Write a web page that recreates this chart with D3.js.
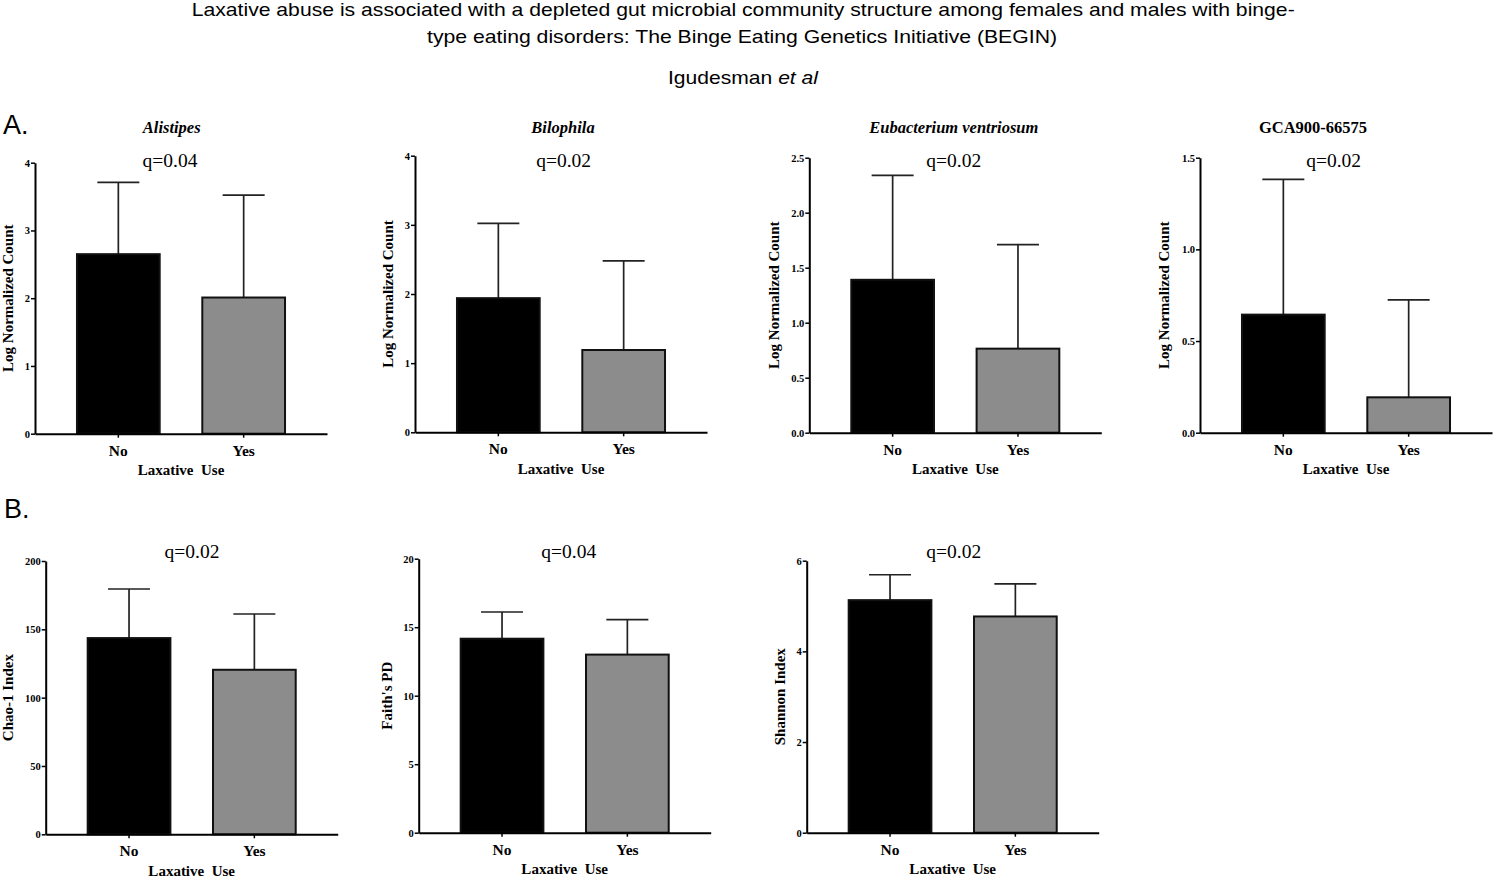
<!DOCTYPE html>
<html>
<head>
<meta charset="utf-8">
<script src="https://cdn.jsdelivr.net/npm/d3@7"></script>
<style>
  body { margin: 0; background: #fff; }
  svg { display: block; }
  .serif { font-family: "Liberation Serif", "Times New Roman", serif; }
  .sans { font-family: "Liberation Sans", Arial, sans-serif; }
</style>
</head>
<body>
<div id="chart"></div>
<script>
// chart values
var panel_names = ["Alistipes", "Bilophila", "Eubacterium ventriosum", "GCA900-66575", "", "", ""];
var panel_italic = [true, true, true, false, false, false, false];
var y_labels = ["Log Normalized Count", "Log Normalized Count", "Log Normalized Count", "Log Normalized Count",
                "Chao-1 Index", "Faith's PD", "Shannon Index"];
var q_labels = ["q=0.04", "q=0.02", "q=0.02", "q=0.02", "q=0.02", "q=0.04", "q=0.02"];
var groups = ["No", "Yes"];
var mean_no = [2.65, 1.94, 1.39, 0.644, 143.6, 14.16, 5.13];
var mean_yes = [2.01, 1.19, 0.764, 0.193, 120.4, 13.0, 4.77];
var upper_no = [3.71, 3.02, 2.34, 1.382, 179.5, 16.11, 5.69];
var upper_yes = [3.52, 2.48, 1.71, 0.724, 161.2, 15.55, 5.49];
var y_max = [4, 4, 2.5, 1.5, 200, 20, 6];
var y_step = [1, 1, 0.5, 0.5, 50, 5, 2];
var y_fmt = ["d", "d", ".1f", ".1f", "d", "d", "d"];
var x_title = "Laxative  Use";

// layout of the seven small plots
var panel_x = [35, 415, 809.3, 1200, 45.7, 418.7, 806.7];
var panel_top = [162.7, 155.7, 157.7, 157.7, 561, 558.7, 560.7];
var panel_bottom = [433.7, 432.3, 432.7, 432.7, 834.3, 832.7, 832.7];
var ylab_dx = [-26.7, -26.7, -35.3, -36, -37.4, -32, -26.7];
var q_dx = [135, 148.7, 144.4, 133.7, 146.3, 150, 147];
var title_dx = [136.7, 148, 144.5, 113, 0, 0, 0];
var plot_w = 292;

var svg = d3.select("#chart").append("svg").attr("width", 1500).attr("height", 881);

// header
var head = svg.append("g").attr("class", "sans").attr("fill", "#000").attr("text-anchor", "start");
head.append("text").attr("x", 191.7).attr("y", 15.7).attr("font-size", 19)
    .attr("textLength", 1103).attr("lengthAdjust", "spacingAndGlyphs")
    .text("Laxative abuse is associated with a depleted gut microbial community structure among females and males with binge-");
head.append("text").attr("x", 427).attr("y", 42.7).attr("font-size", 19)
    .attr("textLength", 630).attr("lengthAdjust", "spacingAndGlyphs")
    .text("type eating disorders: The Binge Eating Genetics Initiative (BEGIN)");
var auth = head.append("text").attr("x", 668).attr("y", 83.5).attr("font-size", 19)
    .attr("textLength", 150).attr("lengthAdjust", "spacingAndGlyphs");
auth.append("tspan").text("Igudesman ");
auth.append("tspan").attr("font-style", "italic").text("et al");

head.append("text").attr("x", 3).attr("y", 134).attr("font-size", 27).text("A.");
head.append("text").attr("x", 4).attr("y", 518.3).attr("font-size", 27).text("B.");

function draw_panel(i) {
    var top = panel_top[i], bottom = panel_bottom[i];
    var g = svg.append("g").attr("class", "serif").attr("transform", "translate(" + panel_x[i] + ",0)");

    var x = d3.scaleBand().domain(groups).range([0, plot_w]).paddingInner(0.34).paddingOuter(0.335);
    var y = d3.scaleLinear().domain([0, y_max[i]]).range([bottom, top]);

    var rows = [
        {key: "No", mean: mean_no[i], upper: upper_no[i], fill: "#000"},
        {key: "Yes", mean: mean_yes[i], upper: upper_yes[i], fill: "#8c8c8c"}
    ];

    // error bars (upper only) drawn behind the bars
    g.selectAll(".err").data(rows).enter().append("line").attr("class", "err")
        .attr("x1", function (d) { return x(d.key) + x.bandwidth() / 2; })
        .attr("x2", function (d) { return x(d.key) + x.bandwidth() / 2; })
        .attr("y1", function (d) { return y(d.mean); })
        .attr("y2", function (d) { return y(d.upper); })
        .attr("stroke", "#222").attr("stroke-width", 1.7);
    g.selectAll(".cap").data(rows).enter().append("line").attr("class", "cap")
        .attr("x1", function (d) { return x(d.key) + x.bandwidth() / 2 - 21; })
        .attr("x2", function (d) { return x(d.key) + x.bandwidth() / 2 + 21; })
        .attr("y1", function (d) { return y(d.upper); })
        .attr("y2", function (d) { return y(d.upper); })
        .attr("stroke", "#222").attr("stroke-width", 1.7);

    g.selectAll(".bar").data(rows).enter().append("rect").attr("class", "bar")
        .attr("x", function (d) { return x(d.key); })
        .attr("width", x.bandwidth())
        .attr("y", function (d) { return y(d.mean); })
        .attr("height", function (d) { return bottom - y(d.mean); })
        .attr("fill", function (d) { return d.fill; })
        .attr("stroke", "#111").attr("stroke-width", 2);

    // y axis
    var ticks = d3.range(0, y_max[i] + y_step[i] / 2, y_step[i]);
    var ya = g.append("g").call(d3.axisLeft(y).tickValues(ticks).tickFormat(d3.format(y_fmt[i]))
                .tickSize(4).tickSizeOuter(0).tickPadding(1));
    ya.select(".domain").attr("stroke", "#000").attr("stroke-width", 2);
    ya.selectAll(".tick line").attr("stroke", "#000").attr("stroke-width", 1.5);
    ya.selectAll(".tick text").attr("class", "serif").attr("font-size", 10.5).attr("font-weight", "bold").attr("fill", "#000");

    // x axis
    var xa = g.append("g").attr("transform", "translate(0," + bottom + ")")
        .call(d3.axisBottom(x).tickSize(4).tickSizeOuter(0).tickPadding(7));
    xa.select(".domain").attr("stroke", "#000").attr("stroke-width", 2);
    xa.selectAll(".tick line").attr("stroke", "#000").attr("stroke-width", 1.5);
    xa.selectAll(".tick text").attr("class", "serif").attr("font-size", 15.5).attr("font-weight", "bold").attr("fill", "#000");

    g.append("text").attr("x", plot_w / 2).attr("y", bottom + 41.5)
        .attr("text-anchor", "middle").attr("font-size", 15).attr("font-weight", "bold")
        .style("white-space", "pre").text(x_title);

    g.append("text")
        .attr("transform", "translate(" + ylab_dx[i] + "," + ((top + bottom) / 2) + ") rotate(-90)")
        .attr("text-anchor", "middle").attr("dominant-baseline", "central")
        .attr("font-size", 15).attr("font-weight", "bold").text(y_labels[i]);

    g.append("text").attr("x", q_dx[i]).attr("y", i < 4 ? 167 : 558.3)
        .attr("text-anchor", "middle").attr("font-size", 19.5).text(q_labels[i]);

    if (panel_names[i]) {
        g.append("text").attr("x", title_dx[i]).attr("y", 132.7)
            .attr("text-anchor", "middle").attr("font-size", 16.5).attr("font-weight", "bold")
            .attr("font-style", panel_italic[i] ? "italic" : "normal").text(panel_names[i]);
    }
}

for (var i = 0; i < panel_names.length; i++) {
    draw_panel(i);
}
</script>
</body>
</html>
